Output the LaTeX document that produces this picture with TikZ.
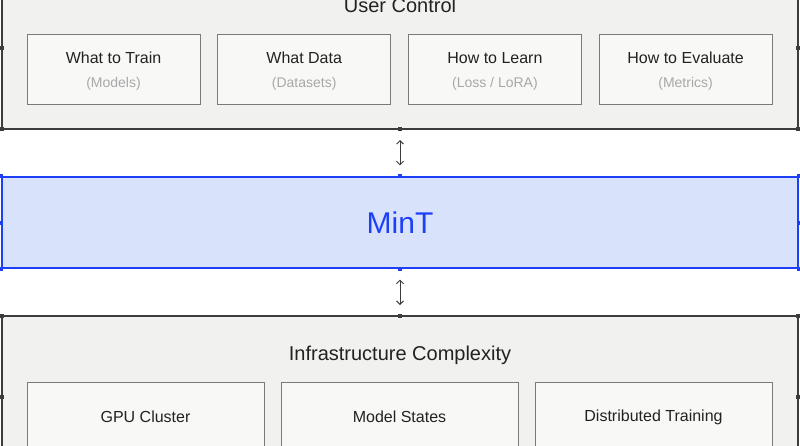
\documentclass[tikz,border=0pt]{standalone}
\usepackage{fontspec}
\setmainfont{Liberation Sans}
\usetikzlibrary{arrows.meta,positioning}

\definecolor{layerfill}{HTML}{F1F1EF}
\definecolor{layerline}{HTML}{3C3C3C}
\definecolor{blockfill}{HTML}{F8F8F7}
\definecolor{blockline}{HTML}{7A7A7A}
\definecolor{mintfill}{HTML}{D8E3FB}
\definecolor{mintline}{HTML}{1E3FF8}
\definecolor{subgray}{HTML}{A8A8A8}
\definecolor{inkgray}{HTML}{222222}
\newcommand{\blocktext}[2]{\rule{0pt}{15.5pt}#1\\{\fontsize{14}{24}\selectfont\color{subgray}#2}}

\begin{document}
\begin{tikzpicture}[x=1pt, y=-1pt, node distance=17.7pt, inkgray]
        % Define block styles
        \tikzstyle{layer} = [rectangle, draw=layerline, fill=layerfill, line width=1.4pt, minimum width=796pt, minimum height=162pt, inner sep=0pt, outer sep=0pt]
        \tikzstyle{block} = [rectangle, draw=blockline, fill=blockfill, line width=1pt, minimum height=70pt, inner sep=0pt, outer sep=0pt, align=center, font=\fontsize{16}{24}\selectfont]
        \tikzstyle{core} = [rectangle, draw=mintline, fill=mintfill, line width=1.4pt, minimum width=796pt, minimum height=91pt, text=mintline, font=\fontsize{30}{36}\selectfont]
        \tikzstyle{title} = [anchor=base, font=\fontsize{20}{24}\selectfont]
        \tikzstyle{line} = [draw, layerline, line width=0.9pt, {Straight Barb[length=3.5pt,width=7pt]}-{Straight Barb[length=3.5pt,width=7pt]}, shorten >=11pt, shorten <=11pt]

        \useasboundingbox (0,0) rectangle (800,445);

        % Nodes
        \node [layer, anchor=south west] (User_Control) at (2,129) {};
        \node [title] (User_Title) at (400,12.5) {User Control};
        \node [block, minimum width=173pt, anchor=north west] (What_Train) at (27,34) {\blocktext{What to Train}{(Models)}};
        \node [block, minimum width=173pt, right=of What_Train] (What_Data) {\blocktext{What Data}{(Datasets)}};
        \node [block, minimum width=173pt, right=of What_Data] (How_Learn) {\blocktext{How to Learn}{(Loss / LoRA)}};
        \node [block, minimum width=173pt, right=of How_Learn] (How_Eval) {\blocktext{How to Evaluate}{(Metrics)}};

        \node [core] (MinT) at (400,222.5) {MinT};

        \node [layer, anchor=north west] (Infra) at (2,316) {};
        \node [title] (Infra_Title) at (400,360) {Infrastructure Complexity};
        \node [block, minimum width=237pt, anchor=north west] (GPU_Cluster) at (27,382) {GPU Cluster};
        \node [block, minimum width=237pt, right=17pt of GPU_Cluster] (Model_States) {Model States};
        \node [block, minimum width=237pt, right=17pt of Model_States] (Dist_Train) {Distributed Training};

        % Handles
        \foreach \a in {north west, north, north east, west, east, south west, south, south east} {
            \fill [layerline] (User_Control.\a) ++(-2pt,-2pt) rectangle ++(4pt,4pt);
            \fill [layerline] (Infra.\a) ++(-2pt,-2pt) rectangle ++(4pt,4pt);
            \fill [mintline] (MinT.\a) ++(-2pt,-2pt) rectangle ++(4pt,4pt);
        }

        % Arrows
        \path [line] (User_Control.south) -- (MinT.north);
        \path [line] (MinT.south) -- (Infra.north);
    \end{tikzpicture}
\end{document}
